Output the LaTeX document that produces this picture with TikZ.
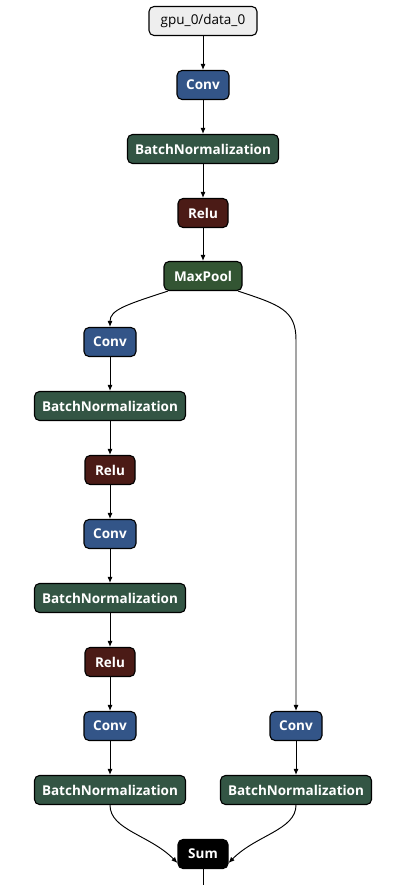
\documentclass[tikz,border=0pt]{standalone}
\usepackage{fontspec}
\setmainfont{Open Sans}
\usetikzlibrary{arrows.meta}
\definecolor{convc}{RGB}{51,85,136}
\definecolor{normc}{RGB}{51,85,68}
\definecolor{poolc}{RGB}{51,85,51}
\definecolor{actc}{RGB}{75,27,22}
\definecolor{inc}{RGB}{238,238,238}
\tikzset{
  op/.style={draw=black, line width=1.1pt, rounded corners=5pt, minimum height=29pt,
    inner xsep=0pt, inner ysep=0pt, text=white, font=\fontsize{13.5}{15}\selectfont\bfseries},
  conv/.style={op, fill=convc, minimum width=52pt},
  bn/.style={op, fill=normc, minimum width=151pt},
  relu/.style={op, fill=actc, minimum width=50pt},
  pool/.style={op, fill=poolc, minimum width=78pt},
  sumop/.style={op, fill=black, minimum width=50pt},
  inp/.style={op, fill=inc, text=black, minimum width=108pt, font=\fontsize{13.5}{15}\selectfont},
  edge/.style={line width=0.95pt, -{Latex[length=6pt,width=5pt]}}
}
\begin{document}
\begin{tikzpicture}[x=1pt,y=-1pt]
\useasboundingbox (0,0) rectangle (400,885);
\node[inp] (in) at (203,21) {gpu\_0/data\_0};
\node[conv] (c1) at (203,85) {Conv};
\node[bn] (b1) at (203,149) {BatchNormalization};
\node[relu] (r1) at (203,213) {Relu};
\node[pool] (mp) at (203,276) {MaxPool};
\node[conv] (c2) at (110,342) {Conv};
\node[bn] (b2) at (110,406) {BatchNormalization};
\node[relu] (r2) at (110,470) {Relu};
\node[conv] (c3) at (110,534) {Conv};
\node[bn] (b3) at (110,598) {BatchNormalization};
\node[relu] (r3) at (110,662) {Relu};
\node[conv] (c4) at (110,726) {Conv};
\node[bn] (b4) at (110,790) {BatchNormalization};
\node[conv] (c5) at (296,726) {Conv};
\node[bn] (b5) at (296,790) {BatchNormalization};
\node[sumop] (sum) at (203,854) {Sum};
\coordinate (out) at (203,885);

\draw[edge] (in) -- (c1);
\draw[edge] (c1) -- (b1);
\draw[edge] (b1) -- (r1);
\draw[edge] (r1) -- (mp);
\draw[edge] ([xshift=-35pt]mp.south) .. controls (125,305) and (110,310) .. (c2.north);
\draw[edge] ([xshift=35pt]mp.south) .. controls (280,305) and (296,310) .. (296,340) -- (c5.north);
\draw[edge] (c2) -- (b2);
\draw[edge] (b2) -- (r2);
\draw[edge] (r2) -- (c3);
\draw[edge] (c3) -- (b3);
\draw[edge] (b3) -- (r3);
\draw[edge] (r3) -- (c4);
\draw[edge] (c4) -- (b4);
\draw[edge] (c5) -- (b5);
\draw[edge] (b4.south) .. controls (110,830) and (150,835) .. ([yshift=-9pt]sum.west);
\draw[edge] (b5.south) .. controls (296,830) and (256,835) .. ([yshift=-9pt]sum.east);
\draw[line width=0.95pt] (sum) -- (out);
\end{tikzpicture}
\end{document}
